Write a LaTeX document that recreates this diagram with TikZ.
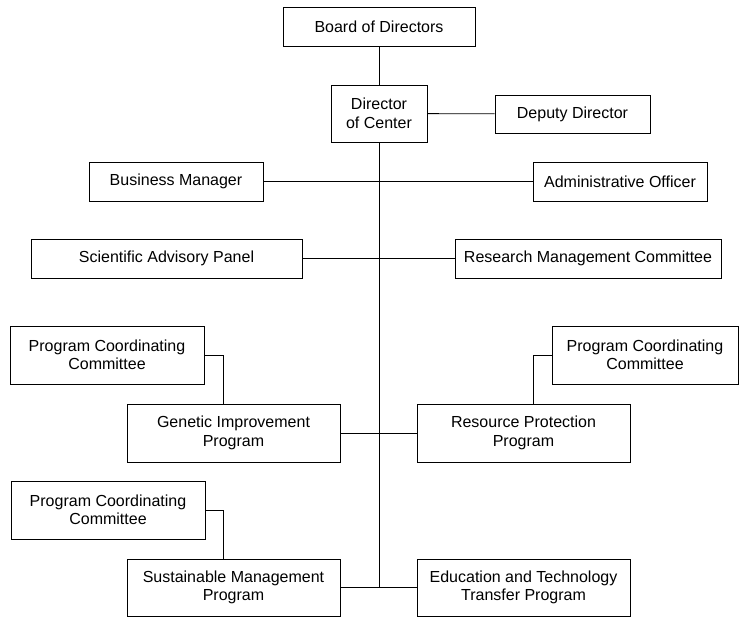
\documentclass[tikz,border=0pt]{standalone}
\usepackage{fontspec}
\setmainfont{Liberation Sans}

\begin{document}
\begin{tikzpicture}[x=1pt,y=-1pt,
    unit/.style={draw,line width=0.8pt,inner sep=0pt,align=center,
      font=\fontsize{16}{18.5}\selectfont},
    link/.style={line width=0.8pt}
    ]
    \useasboundingbox (0,0) rectangle (740,617);
    % top of the chart
    \node[unit,minimum width=192pt,minimum height=39pt] (board) at (379,26.5) {Board of Directors};
    \node[unit,minimum width=96pt,minimum height=57pt] (dir) at (379,113.5) {Director\\of Center};
    \node[unit,minimum width=155pt,minimum height=38pt] (deputy) at (572.5,114) {Deputy Director};
    \node[unit,minimum width=174pt,minimum height=39pt] (bus) at (176,181.5) {Business Manager};
    \node[unit,minimum width=174pt,minimum height=39pt] (admin) at (620,181.5) {Administrative Officer};
    \node[unit,minimum width=271pt,minimum height=39pt] (sci) at (166.5,258.5) {Scientific Advisory Panel};
    \node[unit,minimum width=266pt,minimum height=39pt] (rmc) at (588,258.5) {Research Management Committee};
    % programs
    \node[unit,minimum width=194pt,minimum height=58pt] (pccA) at (107,355) {Program Coordinating\\Committee};
    \node[unit,minimum width=186pt,minimum height=58pt] (pccB) at (645,355) {Program Coordinating\\Committee};
    \node[unit,minimum width=213pt,minimum height=58pt] (gen) at (233.5,433) {Genetic Improvement\\Program};
    \node[unit,minimum width=213pt,minimum height=58pt] (res) at (523.5,433) {Resource Protection\\Program};
    \node[unit,minimum width=194pt,minimum height=58pt] (pccC) at (108,510) {Program Coordinating\\Committee};
    \node[unit,minimum width=213pt,minimum height=57pt] (sus) at (233.5,587.5) {Sustainable Management\\Program};
    \node[unit,minimum width=213pt,minimum height=57pt] (edu) at (523.5,587.5) {Education and Technology\\Transfer Program};
    \coordinate (trunkend) at (dir.south |- edu.west);

    \draw[link] (board) -- (dir);
    \draw[link] (dir) -- (deputy);
    \draw[link] (dir.south) -- (trunkend);
    \foreach \a/\b in {bus/admin,sci/rmc,gen/res,sus/edu}
      \draw[link] (\a.east) -- (\b.west);
    \draw[link] (pccA.east) -| ([xshift=-10pt]gen.north);
    \draw[link] (pccB.west) -| ([xshift=10pt]res.north);
    \draw[link] (pccC.east) -| ([xshift=-10pt]sus.north);
\end{tikzpicture}
\end{document}
